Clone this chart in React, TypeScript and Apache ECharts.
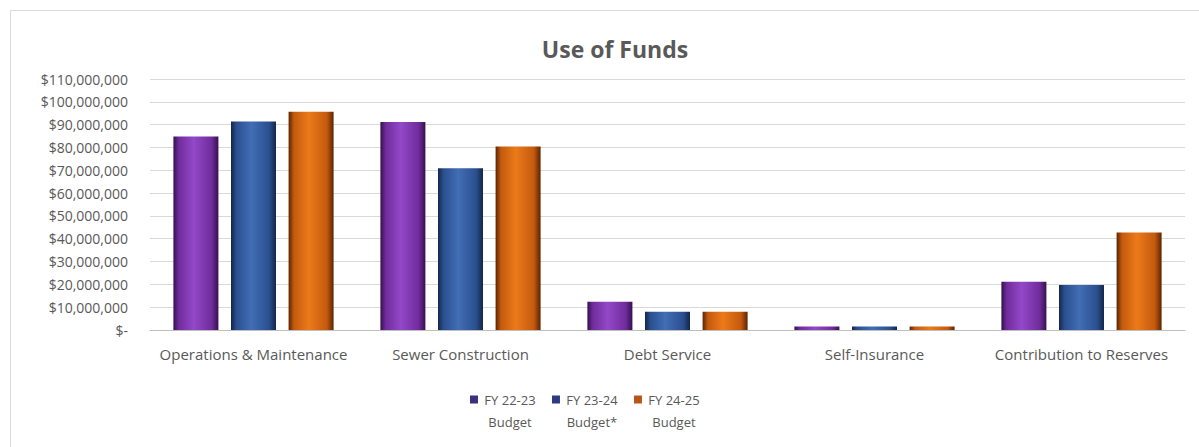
import React, { useEffect, useRef } from "react";
import * as echarts from "echarts";

const categories = [
  "Operations & Maintenance",
  "Sewer Construction",
  "Debt Service",
  "Self-Insurance",
  "Contribution to Reserves",
];
const seriesNames = ["FY 22-23\nBudget", "FY 23-24\nBudget*", "FY 24-25\nBudget"];
const fy2223 = [84800000, 91200000, 12400000, 1500000, 21200000];
const fy2324 = [91400000, 70900000, 8000000, 1500000, 19700000];
const fy2425 = [95700000, 80400000, 8000000, 1500000, 42700000];
const yTicks = { min: 0, max: 110000000, interval: 10000000 };

const palettes = [
  { dark: "#36104f", mid: "#702c9c", light: "#9348c8", legend: "#3b2f7e" },
  { dark: "#13264a", mid: "#2a4f8e", light: "#426eb6", legend: "#2c3b82" },
  { dark: "#5a2403", mid: "#c45a0e", light: "#ec7a1a", legend: "#b8561a" },
];

function grad(p: { dark: string; mid: string; light: string }) {
  return new echarts.graphic.LinearGradient(0, 0, 1, 0, [
    { offset: 0, color: p.dark },
    { offset: 0.12, color: p.mid },
    { offset: 0.45, color: p.light },
    { offset: 0.85, color: p.mid },
    { offset: 1, color: p.dark },
  ]);
}

const iconPath = "path://M0 0h8v8h-8z M0 30h0.1v0.1h-0.1z";

export default function App() {
  const ref = useRef<HTMLDivElement>(null);
  useEffect(() => {
    if (!ref.current) return;
    const chart = echarts.init(ref.current, undefined, { renderer: "svg" });
    const data = [fy2223, fy2324, fy2425];
    const labelFont = "'Open Sans', sans-serif";
    chart.setOption({
      animation: false,
      backgroundColor: "#ffffff",
      title: {
        text: "Use of Funds",
        left: 610,
        top: 32,
        textAlign: "center",
        textStyle: { fontFamily: labelFont, fontWeight: "bold", fontSize: 23, color: "#595959" },
      },
      graphic: [
        {
          type: "rect",
          shape: { x: 10.5, y: 10.5, width: 1200, height: 450 },
          style: { fill: "none", stroke: "#d9d9d9", lineWidth: 1 },
          silent: true,
          z: -1,
        },
      ],
      legend: {
        left: 470,
        top: 393,
        padding: 0,
        itemWidth: 8,
        itemHeight: 30,
        itemGap: 15,
        icon: iconPath,
        data: seriesNames.map((n, i) => ({ name: n, itemStyle: { color: palettes[i].legend } })),
        formatter: (name: string) => {
          const [a, b] = name.split("\n");
          return `{t|${a}}\n{t|${b}}`;
        },
        textStyle: {
          rich: {
            t: {
              width: 54,
              align: "center",
              fontSize: 13,
              lineHeight: 22,
              fontFamily: labelFont,
              color: "#595959",
            },
          },
        },
      },
      grid: { left: 150, right: 14, top: 79, bottom: 117, containLabel: false },
      xAxis: {
        type: "category",
        data: categories,
        axisTick: { show: false },
        axisLine: { lineStyle: { color: "#bfbfbf", width: 1 } },
        axisLabel: {
          interval: 0,
          margin: 16,
          fontSize: 15,
          color: "#595959",
          fontFamily: labelFont,
        },
      },
      yAxis: {
        type: "value",
        min: yTicks.min,
        max: yTicks.max,
        interval: yTicks.interval,
        axisLine: { show: false },
        axisTick: { show: false },
        splitLine: { lineStyle: { color: "#d9d9d9", width: 1 } },
        axisLabel: {
          margin: 22,
          fontSize: 14,
          color: "#595959",
          fontFamily: labelFont,
          formatter: (v: number) => (v === 0 ? "$-" : "$" + v.toLocaleString("en-US")),
        },
      },
      series: data.map((d, i) => ({
        name: seriesNames[i],
        type: "bar",
        data: d,
        barWidth: 45,
        barGap: "28%",
        itemStyle: { color: grad(palettes[i]) },
      })),
    });
    return () => chart.dispose();
  }, []);
  return (
    <div
      ref={ref}
      style={{ position: "absolute", left: 0, top: 0, width: 1199, height: 447 }}
    />
  );
}
